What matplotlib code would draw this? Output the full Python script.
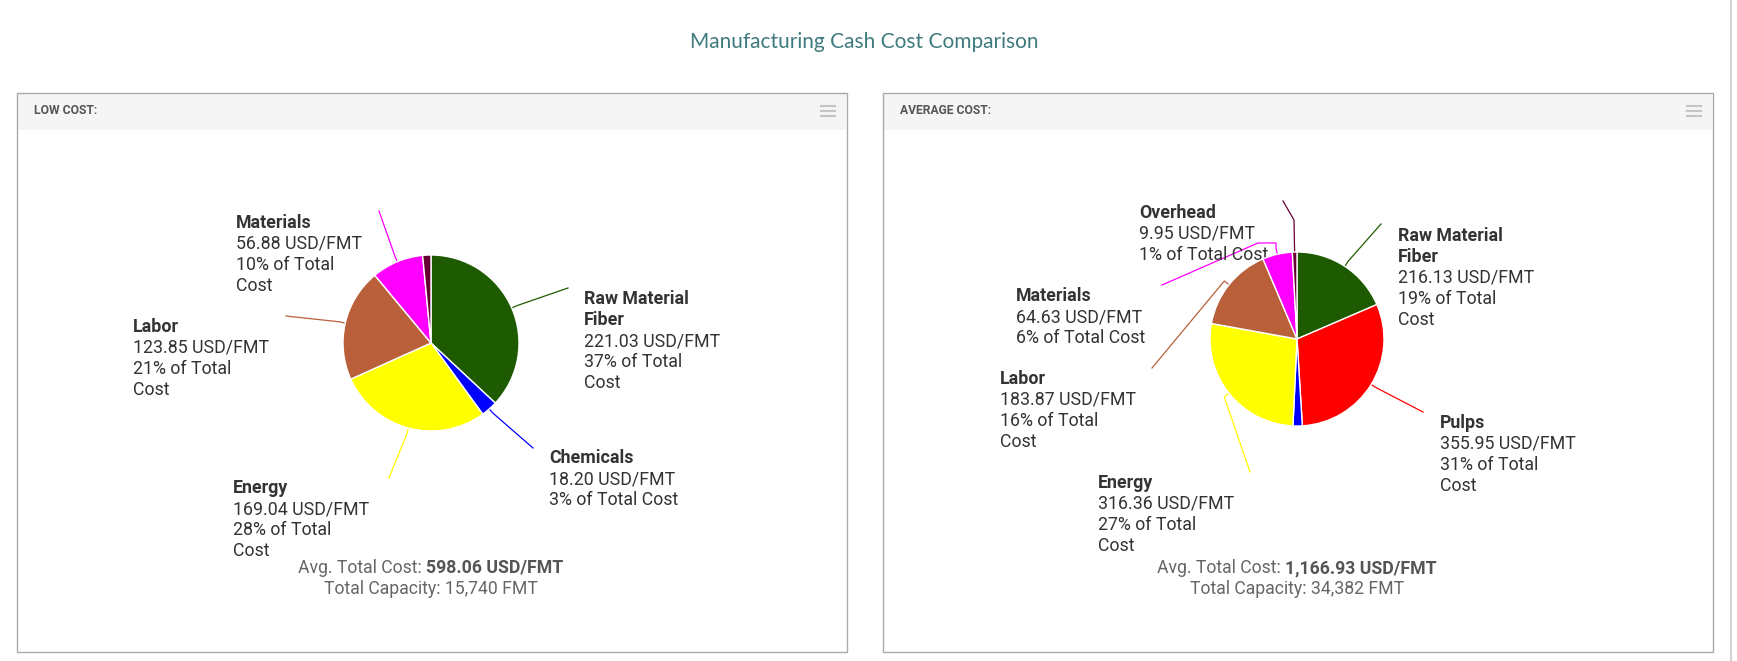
import textwrap
import matplotlib.pyplot as plt
from matplotlib.patches import Rectangle
import numpy as np

W, H = 1737, 661

title = "Manufacturing Cash Cost Comparison"

# low cost mill
low_names = ["Raw Material Fiber", "Chemicals", "Energy", "Labor", "Materials", "Overhead"]
low_values = [221.03, 18.20, 169.04, 123.85, 56.88, 9.06]
low_capacity = 15740

# average cost mill
avg_names = ["Raw Material Fiber", "Pulps", "Chemicals", "Energy", "Labor", "Materials", "Overhead"]
avg_values = [216.13, 355.95, 20.04, 316.36, 183.87, 64.63, 9.95]
avg_capacity = 34382

colors = {"Raw Material Fiber": "#1e5b00", "Pulps": "#ff0000", "Chemicals": "#0000ff",
          "Energy": "#ffff00", "Labor": "#b9603b", "Materials": "#ff00ff", "Overhead": "#660033"}

# layout, pixel coords (y down)
panels = [
    dict(header="LOW COST:", names=low_names, values=low_values, capacity=low_capacity,
         box=(16.5, 92.5, 846.5, 651.5), center=(431, 343), radius=88,
         labels={"Raw Material Fiber": (584, 299), "Chemicals": (549, 458), "Energy": (233, 488),
                 "Labor": (133, 327), "Materials": (236, 223)},
         links={"Raw Material Fiber": [(568, 288)], "Chemicals": [(533, 448)],
                "Energy": [(389, 478)], "Labor": [(286, 316)], "Materials": [(379, 211)]}),
    dict(header="AVERAGE COST:", names=avg_names, values=avg_values, capacity=avg_capacity,
         box=(882.5, 92.5, 1712.5, 651.5), center=(1297, 339), radius=87,
         labels={"Overhead": (1139, 213), "Raw Material Fiber": (1398, 236), "Materials": (1016, 296),
                 "Labor": (1000, 379), "Pulps": (1440, 423), "Energy": (1098, 483)},
         links={"Raw Material Fiber": [(1381, 224)], "Pulps": [(1423, 412)], "Energy": [(1250, 472)],
                "Labor": [(1152, 368)], "Materials": [(1276, 243), (1258, 243), (1162, 285)],
                "Overhead": [(1294, 220), (1283, 201)]}),
]

FONT = "Roboto"
LS = 21  # line step in px

fig = plt.figure(figsize=(W / 100, H / 100), dpi=100)
ov = fig.add_axes([0, 0, 1, 1])
ov.set_xlim(0, W)
ov.set_ylim(H, 0)
ov.axis("off")

ov.text(864, 42, title, ha="center", va="center", fontsize=15, family="Lato", color="#3f7b7e")
ov.plot([1731, 1731], [0, H], color="#d4d4d4", lw=1.5)

renderer = fig.canvas.get_renderer()

for p in panels:
    x0, y0, x1, y1 = p["box"]
    ov.add_patch(Rectangle((x0 + 1, y0 + 0.5), x1 - x0 - 2, 37, facecolor="#f5f5f5", edgecolor="none"))
    ov.add_patch(Rectangle((x0, y0), x1 - x0, y1 - y0, facecolor="none", edgecolor="#aaaaaa", lw=1))
    ov.text(x0 + 17, 111, p["header"], ha="left", va="center", fontsize=8.7, weight="bold",
            family=FONT, color="#555555")
    for dy in (-5, 0, 5):
        ov.plot([x1 - 26, x1 - 12], [111 + dy, 111 + dy], color="#c4c4c4", lw=1.5)

    cx, cy = p["center"]
    R = p["radius"]
    pad = 1.05
    axp = fig.add_axes([(cx - R * pad) / W, 1 - (cy + R * pad) / H, 2 * R * pad / W, 2 * R * pad / H])
    wedges, _ = axp.pie(p["values"], colors=[colors[n] for n in p["names"]], startangle=90,
                        counterclock=False, radius=1,
                        wedgeprops=dict(edgecolor="white", linewidth=1))
    axp.set_xlim(-pad, pad)
    axp.set_ylim(-pad, pad)
    axp.axis("off")

    total = sum(p["values"])
    for name, val, w in zip(p["names"], p["values"], wedges):
        mid = np.deg2rad((w.theta1 + w.theta2) / 2)
        if name in p["links"]:
            pts = [(cx + R * np.cos(mid), cy - R * np.sin(mid)),
                   (cx + (R + 6) * np.cos(mid), cy - (R + 6) * np.sin(mid))] + p["links"][name]
            xs, ys = zip(*pts)
            ov.plot(xs, ys, color=colors[name], lw=0.9)
        if name in p["labels"]:
            lx, ly = p["labels"][name]
            pct = round(val / total * 100)
            name_lines = textwrap.wrap(name, 16)
            rest = textwrap.wrap(f"{val:.2f} USD/FMT", 16) + textwrap.wrap(f"{pct}% of Total Cost", 16)
            for i, line in enumerate(name_lines + rest):
                bold = i < len(name_lines)
                ov.text(lx, ly + i * LS, line, ha="left", va="center", fontsize=12.8,
                        weight="bold" if bold else "normal", family=FONT, color="#333333")

    # footer under the pie
    t1 = ov.text(0, 568, "Avg. Total Cost:", ha="left", va="center", fontsize=12.7,
                 family=FONT, color="#666666")
    t2 = ov.text(0, 568, f"{total:,.2f} USD/FMT", ha="left", va="center", fontsize=12.7,
                 weight="bold", family=FONT, color="#555555")
    w1 = t1.get_window_extent(renderer).width
    w2 = t2.get_window_extent(renderer).width
    gap = 4.5
    start = cx - (w1 + gap + w2) / 2
    t1.set_x(start)
    t2.set_x(start + w1 + gap)
    ov.text(cx, 589, f"Total Capacity: {p['capacity']:,} FMT", ha="center", va="center",
            fontsize=12.7, family=FONT, color="#666666")

fig.savefig("out.png", dpi=100)
